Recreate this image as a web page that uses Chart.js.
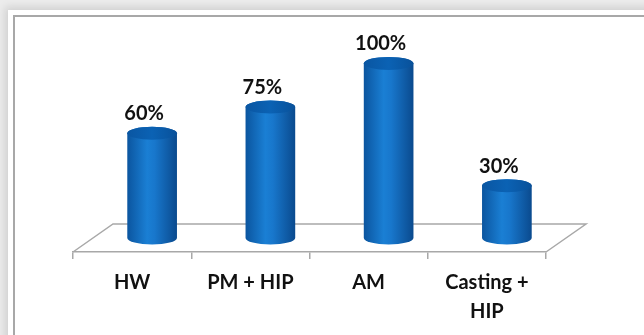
<!DOCTYPE html>
<html>
<head>
<meta charset="utf-8">
<script src="https://cdn.jsdelivr.net/npm/chart.js@4"></script>
<style>
  html, body { margin: 0; padding: 0; width: 644px; height: 335px; overflow: hidden; background: #ececec; }
  #panel { position: absolute; left: 8px; top: 10px; width: 700px; height: 400px; background: #fff;
           box-shadow: -3px -3px 8px rgba(0,0,0,0.12); }
  #frame { position: absolute; left: 13px; top: 15px; width: 700px; height: 400px;
           border-left: 2px solid #a8a8a8; border-top: 2px solid #a8a8a8; }
  #wrap { position: absolute; left: 0; top: 0; width: 644px; height: 335px; }
</style>
</head>
<body>
<div id="panel"></div>
<div id="frame"></div>
<div id="wrap"><canvas id="chart" width="644" height="335"></canvas></div>
<script>
const categories = ['HW', 'PM + HIP', 'AM', ['Casting +', 'HIP']];
const values = [60, 75, 100, 30];
const valueLabels = ['60%', '75%', '100%', '30%'];

const FONT = 'Lato, "Open Sans", sans-serif';
// depth of the 3d floor
const depthX = 40, depthY = 28;

const cylinders = {
    id: 'cylinders',
    beforeDatasetsDraw(chart) {
        const { ctx, chartArea } = chart;
        const { left, right, bottom } = chartArea;
        ctx.save();
        ctx.strokeStyle = '#a8a8a8';
        ctx.lineWidth = 1.5;
        ctx.beginPath();
        ctx.moveTo(left, bottom);
        ctx.lineTo(left + depthX, bottom - depthY);
        ctx.lineTo(right + depthX, bottom - depthY);
        ctx.lineTo(right, bottom);
        ctx.stroke();
        ctx.restore();
    },
    afterDatasetsDraw(chart) {
        const ctx = chart.ctx;
        const meta = chart.getDatasetMeta(0);
        meta.data.forEach((bar, i) => {
            const { x, y, base, width } = bar.getProps(['x', 'y', 'base', 'width'], true);
            const cx = x + depthX / 2;
            const top = y - depthY / 2;
            const bot = base - depthY / 2;
            const rx = width / 2, ry = 6.5;

            ctx.save();
            const g = ctx.createLinearGradient(cx - rx, 0, cx + rx, 0);
            g.addColorStop(0, '#0b559f');
            g.addColorStop(0.4, '#1a7fd4');
            g.addColorStop(0.55, '#1877cc');
            g.addColorStop(1, '#0a4a8e');
            ctx.fillStyle = g;
            ctx.beginPath();
            ctx.moveTo(cx - rx, top);
            ctx.lineTo(cx - rx, bot);
            ctx.ellipse(cx, bot, rx, ry, 0, Math.PI, 0, true);
            ctx.lineTo(cx + rx, top);
            ctx.ellipse(cx, top, rx, ry, 0, 0, Math.PI, true);
            ctx.closePath();
            ctx.fill();

            const gt = ctx.createLinearGradient(cx - rx, 0, cx + rx, 0);
            gt.addColorStop(0, '#0a56a2');
            gt.addColorStop(0.5, '#0b62b4');
            gt.addColorStop(1, '#09519a');
            ctx.fillStyle = gt;
            ctx.beginPath();
            ctx.ellipse(cx, top, rx, ry, 0, 0, Math.PI * 2);
            ctx.fill();

            ctx.fillStyle = '#111';
            ctx.font = 'bold 20px ' + FONT;
            ctx.textAlign = 'center';
            ctx.textBaseline = 'middle';
            ctx.fillText(valueLabels[i], x + 12, top - ry - 13);
            ctx.restore();
        });
    }
};

new Chart(document.getElementById('chart'), {
    type: 'bar',
    data: {
        labels: categories,
        datasets: [{
            data: values,
            backgroundColor: 'rgba(0,0,0,0)',
            barPercentage: 0.42,
            categoryPercentage: 1
        }]
    },
    options: {
        responsive: false,
        animation: false,
        layout: { padding: { left: 73, right: 98, top: 60, bottom: 0 } },
        plugins: { legend: { display: false }, tooltip: { enabled: false } },
        scales: {
            x: {
                grid: { drawOnChartArea: false, drawTicks: true, tickLength: 7, color: '#a8a8a8', lineWidth: 1.5 },
                border: { color: '#a8a8a8', width: 1.5 },
                ticks: {
                    color: '#111',
                    font: { family: FONT, size: 20, weight: 'bold', lineHeight: 1.45 },
                    padding: 9,
                    maxRotation: 0
                }
            },
            y: { display: false, min: 0, max: 110 }
        }
    },
    plugins: [cylinders]
});
</script>
</body>
</html>
